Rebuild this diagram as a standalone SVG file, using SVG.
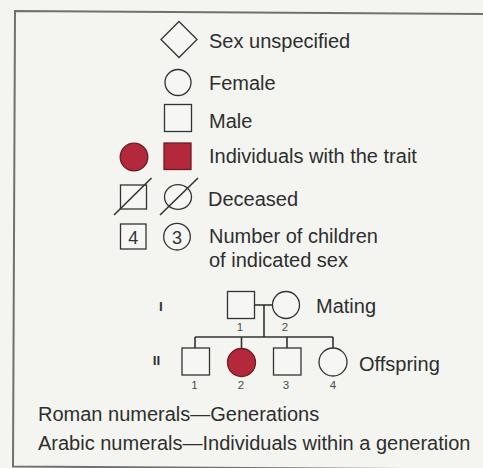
<svg xmlns="http://www.w3.org/2000/svg" width="483" height="468" viewBox="0 0 483 468">
<style>
.t{font-family:"Liberation Sans",Arial,sans-serif;font-size:20px;fill:#2e2e2e}
.d{font-family:"Liberation Sans",Arial,sans-serif;font-size:11.5px;fill:#4a4a4a;text-anchor:middle}
.g{font-family:"Liberation Sans",Arial,sans-serif;font-size:13.5px;font-weight:bold;fill:#333;text-anchor:middle}
.n{font-family:"Liberation Sans",Arial,sans-serif;font-size:18px;fill:#333;text-anchor:middle}
.s{fill:#f6f7f4;stroke:#333;stroke-width:1.3}
.a{fill:#b3283a;stroke:#6e1c24;stroke-width:1.3}
.l{stroke:#333;stroke-width:1.6;fill:none}
.f{stroke:#707070;stroke-width:2;fill:none}
</style>
<rect width="483" height="468" fill="#f4f5f1"/>
<path class="f" d="M483,14 L15,11 L13,466.5 L483,469.5"/>

<g id="legend-unspecified">
<polygon class="s" points="179,21.5 197,39.5 179,57.5 161,39.5"/>
<text class="t" x="209" y="48">Sex unspecified</text>
</g>
<g id="legend-female">
<circle class="s" cx="178" cy="82.5" r="13"/>
<text class="t" x="209" y="90">Female</text>
</g>
<g id="legend-male">
<rect class="s" x="164.5" y="104.5" width="27" height="27"/>
<text class="t" x="209" y="128">Male</text>
</g>
<g id="legend-affected">
<circle class="a" cx="134" cy="157" r="13.8"/>
<rect class="a" x="164" y="143" width="27" height="26.5"/>
<text class="t" x="209" y="163">Individuals with the trait</text>
</g>
<g id="legend-deceased">
<rect class="s" x="120.5" y="185" width="26" height="24"/>
<line class="l" x1="114" y1="215" x2="151.5" y2="178"/>
<ellipse class="s" cx="178" cy="197" rx="13.5" ry="12.3"/>
<line class="l" x1="160" y1="215" x2="198" y2="178"/>
<text class="t" x="208" y="206">Deceased</text>
</g>
<g id="legend-number">
<rect class="s" x="120.5" y="224" width="25.5" height="25"/>
<text class="n" x="133.2" y="243.5">4</text>
<circle class="s" cx="177" cy="236.7" r="13.3"/>
<text class="n" x="177" y="243.5">3</text>
<text class="t" x="209" y="243">Number of children</text>
<text class="t" x="209" y="267">of indicated sex</text>
</g>

<g id="connectors">
<line class="l" x1="254.5" y1="305" x2="272.5" y2="305"/>
<line class="l" x1="264" y1="305" x2="264" y2="337"/>
<line class="l" x1="195" y1="337" x2="333" y2="337"/>
<line class="l" x1="195" y1="337" x2="195" y2="348"/>
<line class="l" x1="241.5" y1="337" x2="241.5" y2="348.5"/>
<line class="l" x1="287" y1="337" x2="287" y2="348"/>
<line class="l" x1="333" y1="337" x2="333" y2="348.5"/>
</g>

<g id="gen-I">
<text class="g" x="161" y="311">I</text>
</g>
<g id="I-1">
<rect class="s" x="227.5" y="291.5" width="27" height="27"/>
<text class="d" x="240" y="331">1</text>
</g>
<g id="I-2">
<circle class="s" cx="286" cy="305" r="13.5"/>
<text class="d" x="285" y="331">2</text>
</g>
<g id="label-mating">
<text class="t" x="316" y="313">Mating</text>
</g>

<g id="gen-II">
<text class="g" x="156.5" y="365">II</text>
</g>
<g id="II-1">
<rect class="s" x="182" y="348" width="27.5" height="27"/>
<text class="d" x="194.5" y="389">1</text>
</g>
<g id="II-2">
<circle class="a" cx="241.5" cy="362.5" r="14"/>
<text class="d" x="241" y="389">2</text>
</g>
<g id="II-3">
<rect class="s" x="273.5" y="348" width="27.5" height="27"/>
<text class="d" x="286" y="389">3</text>
</g>
<g id="II-4">
<circle class="s" cx="333" cy="362" r="14"/>
<text class="d" x="333" y="389">4</text>
</g>
<g id="label-offspring">
<text class="t" x="359" y="371">Offspring</text>
</g>

<g id="notes">
<text class="t" x="38" y="421">Roman numerals—Generations</text>
<text class="t" x="38" y="450">Arabic numerals—Individuals within a generation</text>
</g>
</svg>
